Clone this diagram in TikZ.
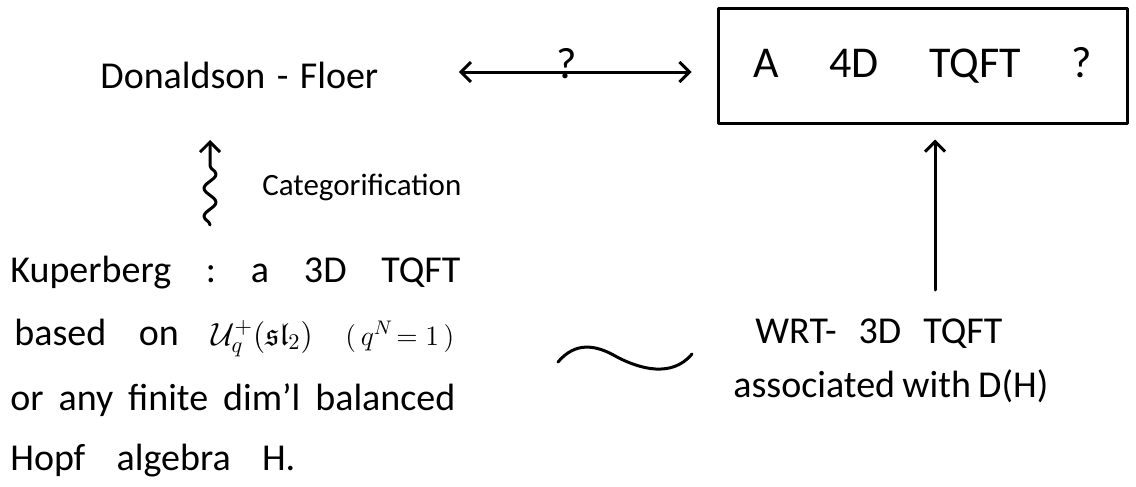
\RequirePackage{fix-cm}
\documentclass[tikz,border=0pt]{standalone}
\usepackage{amssymb}
\usepackage{fontspec}
\setmainfont{Carlito}
\usetikzlibrary{arrows.meta,decorations.pathmorphing}
\begin{document}
\begin{tikzpicture}[x=0.5pt,y=-0.5pt,
  txt/.style={font=\fontsize{19}{23}\selectfont, inner sep=0pt, anchor=base west},
  stroke/.style={line width=1.5pt, line cap=round, line join=round},
  barb/.tip={Straight Barb[length=5pt,width=10pt]},
  tipto/.style={-barb},
  tipboth/.style={barb-barb}]
\useasboundingbox (0,0) rectangle (1136,487);
% top row
\node[txt] (df) at (100,88) {\makebox[139pt][s]{Donaldson - Floer}};
\node[draw, stroke, minimum width=204.5pt, minimum height=57.5pt, inner sep=0pt,
      font=\fontsize{22}{26}\selectfont] (box) at (922.5,65.5)
      {\makebox[169pt][s]{A\hfill 4D\hfill TQFT\hfill ?}};
\node[font=\fontsize{22}{26}\selectfont, inner sep=0pt, anchor=base] (qm) at (567,78) {?};
\draw[stroke, tipboth, shorten <=40pt, shorten >=12.5pt]
  ([yshift=8pt]df.base east) -- ([yshift=-3.25pt]box.west);
% categorification
\node[txt, font=\fontsize{15.5}{19}\selectfont] (cat) at (262,195) {Categorification};
\coordinate (sqb) at (210,225);
\coordinate (sqt) at (210,140);
\draw[stroke, tipto, decorate,
      decoration={snake, amplitude=3pt, segment length=14pt, post length=7pt}]
  (sqb) -- (sqt);
% left block
\node[txt] (k1) at (10,282) {\makebox[225pt][s]{Kuperberg\hfill :\hfill a\hfill 3D\hfill TQFT}};
\node[txt] (k2) at (14,345) {\makebox[220pt][s]{based\hfill on\hfill
  {\fontsize{16}{19}\selectfont $\mathcal{U}_q^{+}(\mathfrak{sl}_2)$}\hfill
  {\fontsize{14}{17}\selectfont $(\,q^N\!=1\,)$}}};
\node[txt] (k3) at (10,410) {\makebox[222.5pt][s]{or any finite dim'l balanced}};
\node[txt] (k4) at (10,470) {\makebox[142.5pt][s]{Hopf\hfill algebra\hfill H.}};
% tilde
\coordinate (tl) at (558,362);
\coordinate (tr) at (692,354);
\draw[stroke] (tl) .. controls (575,342) and (595,344) .. (617,357)
  .. controls (640,369) and (672,378) .. (tr);
% right block
\node[txt] (w1) at (755,343) {\makebox[123.5pt][s]{WRT- 3D TQFT}};
\node[txt] (w2) at (733,397) {\makebox[157.5pt][s]{associated with D(H)}};
\coordinate (ra) at (935,290);
\draw[stroke, tipto, shorten >=7.5pt] (ra) -- (ra |- box.south);
\end{tikzpicture}
\end{document}
